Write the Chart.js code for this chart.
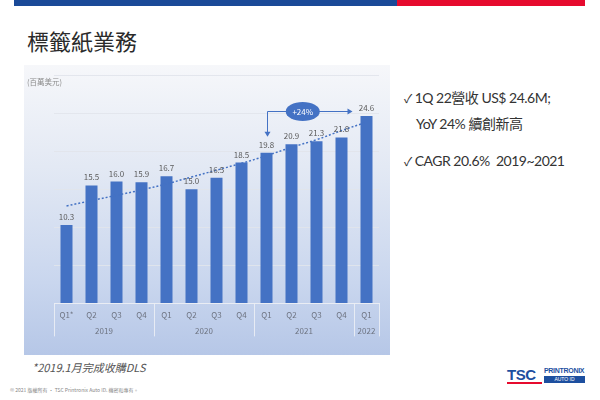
<!DOCTYPE html>
<html>
<head>
<meta charset="utf-8">
<script src="https://cdn.jsdelivr.net/npm/chart.js@4"></script>
<style>
  html, body { margin: 0; padding: 0; background: #fff; }
  body { width: 600px; height: 400px; position: relative; overflow: hidden;
         font-family: Lato, "Noto Sans CJK TC", sans-serif; }
  .bar-blue { position: absolute; left: 14px; top: 0; width: 383px; height: 6px; background: #1a4a98; }
  .bar-red { position: absolute; left: 397px; top: 0; width: 188px; height: 6px; background: #e60b2e; }
  .title { position: absolute; left: 27px; top: 24px; font-size: 22px; color: #2a2a2a;
           font-family: "Noto Sans CJK TC", sans-serif; }
  .panel { position: absolute; left: 24px; top: 65px; width: 366px; height: 290px;
           background: linear-gradient(#f6f7fa 0%, #e3e9f4 35%, #c9d6ee 75%, #b6c7e7 100%); }
  .unit { position: absolute; left: 3px; top: 11px; font-size: 7.5px; color: #8c8c8c;
          font-family: "Noto Sans CJK TC", sans-serif; }
  .notes { position: absolute; left: 404px; top: 87px; font-size: 14px; color: #333;
           letter-spacing: -0.5px; font-family: Lato, "Noto Sans CJK TC", sans-serif; }
  .notes div { position: absolute; white-space: nowrap; }
  .notes .ck { font-size: 12px; margin-right: 3px; }
  .foot { position: absolute; left: 32px; top: 359px; font-size: 11px; font-style: italic; color: #555;
          font-family: "Noto Sans CJK TC", sans-serif; }
  .copy { position: absolute; left: 10px; top: 386px; font-size: 5px; color: #888;
          font-family: "Noto Sans CJK TC", sans-serif; white-space: nowrap; }
  .logo { position: absolute; left: 507px; top: 366px; width: 80px; height: 22px; }
  .tsc { position: absolute; left: 0; top: 1px; font: 900 15px "Liberation Sans", sans-serif;
         color: #1d4f9f; letter-spacing: -0.5px; line-height: 15px; }
  .tsc-line { position: absolute; left: 0; top: 16px; width: 35px; height: 2px; background: #e60b2e; }
  .prx { position: absolute; left: 37px; top: 1px; font: 700 7px "Liberation Sans Narrow", "Liberation Sans", sans-serif;
         color: #1d4f9f; letter-spacing: -0.3px; }
  .auto { position: absolute; left: 37px; top: 10px; width: 41px; height: 7px; background: #1d4f9f;
          color: #fff; font: 5px "Liberation Sans", sans-serif; text-align: center; line-height: 7px; }
</style>
</head>
<body>
<div class="bar-blue"></div>
<div class="bar-red"></div>
<div class="title">標籤紙業務</div>

<div class="panel">
  <canvas id="revChart"></canvas>
  <div class="unit">(百萬美元)</div>
</div>

<div class="notes">
  <div style="left:0;top:0"><span class="ck">✓</span>1Q 22營收 US$ 24.6M;</div>
  <div style="left:12px;top:26px">YoY 24% 續創新高</div>
  <div style="left:0;top:65px"><span class="ck">✓</span>CAGR 20.6%&nbsp; 2019~2021</div>
</div>

<div class="foot">*2019.1月完成收購DLS</div>
<div class="copy">© 2021 版權所有 · TSC Printronix Auto ID. 機密和專有。</div>
<div class="logo">
  <div class="tsc">TSC</div>
  <div class="tsc-line"></div>
  <div class="prx">PRINTRONIX</div>
  <div class="auto">AUTO ID</div>
</div>

<script>
// quarterly revenue, millions USD
const quarters = ['Q1*', 'Q2', 'Q3', 'Q4', 'Q1', 'Q2', 'Q3', 'Q4', 'Q1', 'Q2', 'Q3', 'Q4', 'Q1'];
const years = ['2019', '2020', '2021', '2022'];
const yearSpans = [4, 4, 4, 1];
const revenue = [10.3, 15.5, 16.0, 15.9, 16.7, 15.0, 16.5, 18.5, 19.8, 20.9, 21.3, 21.8, 24.6];
// dotted trend line
const trend = [12.8, 13.5, 14.2, 14.9, 15.7, 16.6, 17.5, 18.4, 19.4, 20.5, 21.5, 22.7, 23.8];
const growthLabel = '+24%';

const blue = '#4472c4';
const cjk = "'Noto Sans CJK TC', Lato, sans-serif";

// value labels above bars
const barLabels = {
    id: 'barLabels',
    afterDatasetsDraw(chart) {
        const ctx = chart.ctx;
        const meta = chart.getDatasetMeta(1);
        ctx.save();
        ctx.fillStyle = '#5a5a5a';
        ctx.font = '8px ' + cjk;
        ctx.textAlign = 'center';
        ctx.textBaseline = 'bottom';
        meta.data.forEach(function (bar, i) {
            ctx.fillText(revenue[i].toFixed(1), bar.x, bar.y - 4);
        });
        ctx.restore();
    }
};

// year row under the quarter labels
const yearAxis = {
    id: 'yearAxis',
    afterDraw(chart) {
        const ctx = chart.ctx;
        const x = chart.scales.x;
        const area = chart.chartArea;
        const step = x.width / quarters.length;
        ctx.save();
        ctx.strokeStyle = 'rgba(235,238,245,0.9)';
        ctx.lineWidth = 1;
        ctx.fillStyle = '#6d7380';
        ctx.font = '8px ' + cjk;
        ctx.textAlign = 'center';
        ctx.textBaseline = 'middle';
        let start = 0;
        const edges = [0];
        yearSpans.forEach(function (n, k) {
            const mid = (x.getPixelForValue(start) + x.getPixelForValue(start + n - 1)) / 2;
            ctx.fillText(years[k], mid, area.bottom + 28);
            start += n;
            edges.push(start);
        });
        edges.forEach(function (idx) {
            const px = Math.round(x.left + idx * step) + 0.5;
            ctx.beginPath();
            ctx.moveTo(px, area.bottom);
            ctx.lineTo(px, area.bottom + 33);
            ctx.stroke();
        });
        ctx.restore();
    }
};

// +24% bubble with arrows from 1Q21 to 1Q22
const growthNote = {
    id: 'growthNote',
    afterDatasetsDraw(chart) {
        const ctx = chart.ctx;
        const x = chart.scales.x;
        const y = chart.scales.y;
        const yLine = Math.round(y.getPixelForValue(25.3)) + 0.5;
        const xFrom = Math.round(x.getPixelForValue(8)) + 0.5;
        const yDown = y.getPixelForValue(21.9);
        const xTo = x.getPixelForValue(12) - 14;
        const cx = x.getPixelForValue(9.45);
        ctx.save();
        ctx.strokeStyle = blue;
        ctx.fillStyle = blue;
        ctx.lineWidth = 1;
        ctx.beginPath();
        ctx.moveTo(xFrom, yDown - 4);
        ctx.lineTo(xFrom, yLine);
        ctx.lineTo(xTo - 4, yLine);
        ctx.stroke();
        // arrow heads
        ctx.beginPath();
        ctx.moveTo(xFrom - 3, yDown - 5);
        ctx.lineTo(xFrom + 3, yDown - 5);
        ctx.lineTo(xFrom, yDown);
        ctx.closePath();
        ctx.fill();
        ctx.beginPath();
        ctx.moveTo(xTo - 5, yLine - 3);
        ctx.lineTo(xTo - 5, yLine + 3);
        ctx.lineTo(xTo, yLine);
        ctx.closePath();
        ctx.fill();
        // bubble
        ctx.beginPath();
        ctx.ellipse(cx, yLine, 17, 9.5, 0, 0, Math.PI * 2);
        ctx.fill();
        ctx.fillStyle = '#fff';
        ctx.font = '8px ' + cjk;
        ctx.textAlign = 'center';
        ctx.textBaseline = 'middle';
        ctx.fillText(growthLabel, cx, yLine + 0.5);
        ctx.restore();
    }
};

var ctx1 = document.getElementById('revChart').getContext('2d');

new Chart(ctx1, {
    type: 'bar',
    data: {
        labels: quarters,
        datasets: [{
            type: 'line',
            label: 'trend',
            data: trend,
            borderColor: blue,
            borderWidth: 1.5,
            borderDash: [2, 2],
            pointRadius: 0,
            tension: 0.4,
            fill: false,
            order: 0
        }, {
            label: 'revenue',
            data: revenue,
            backgroundColor: blue,
            barPercentage: 0.48,
            categoryPercentage: 1,
            order: 1
        }]
    },
    options: {
        responsive: true,
        maintainAspectRatio: false,
        animation: false,
        layout: { padding: { left: 30, right: 11, top: 10, bottom: 28 } },
        plugins: {
            legend: { display: false },
            tooltip: { enabled: false }
        },
        scales: {
            x: {
                grid: { display: false, drawTicks: false },
                border: { color: 'rgba(235,238,245,0.9)' },
                ticks: {
                    color: '#6d7380',
                    font: { size: 8, family: cjk },
                    padding: 7,
                    maxRotation: 0,
                    autoSkip: false
                }
            },
            y: {
                min: 0,
                max: 30,
                ticks: { display: false, stepSize: 5 },
                grid: { color: 'rgba(225,228,235,0.9)', drawTicks: false },
                border: { display: false }
            }
        }
    },
    plugins: [barLabels, yearAxis, growthNote]
});
</script>
</body>
</html>
